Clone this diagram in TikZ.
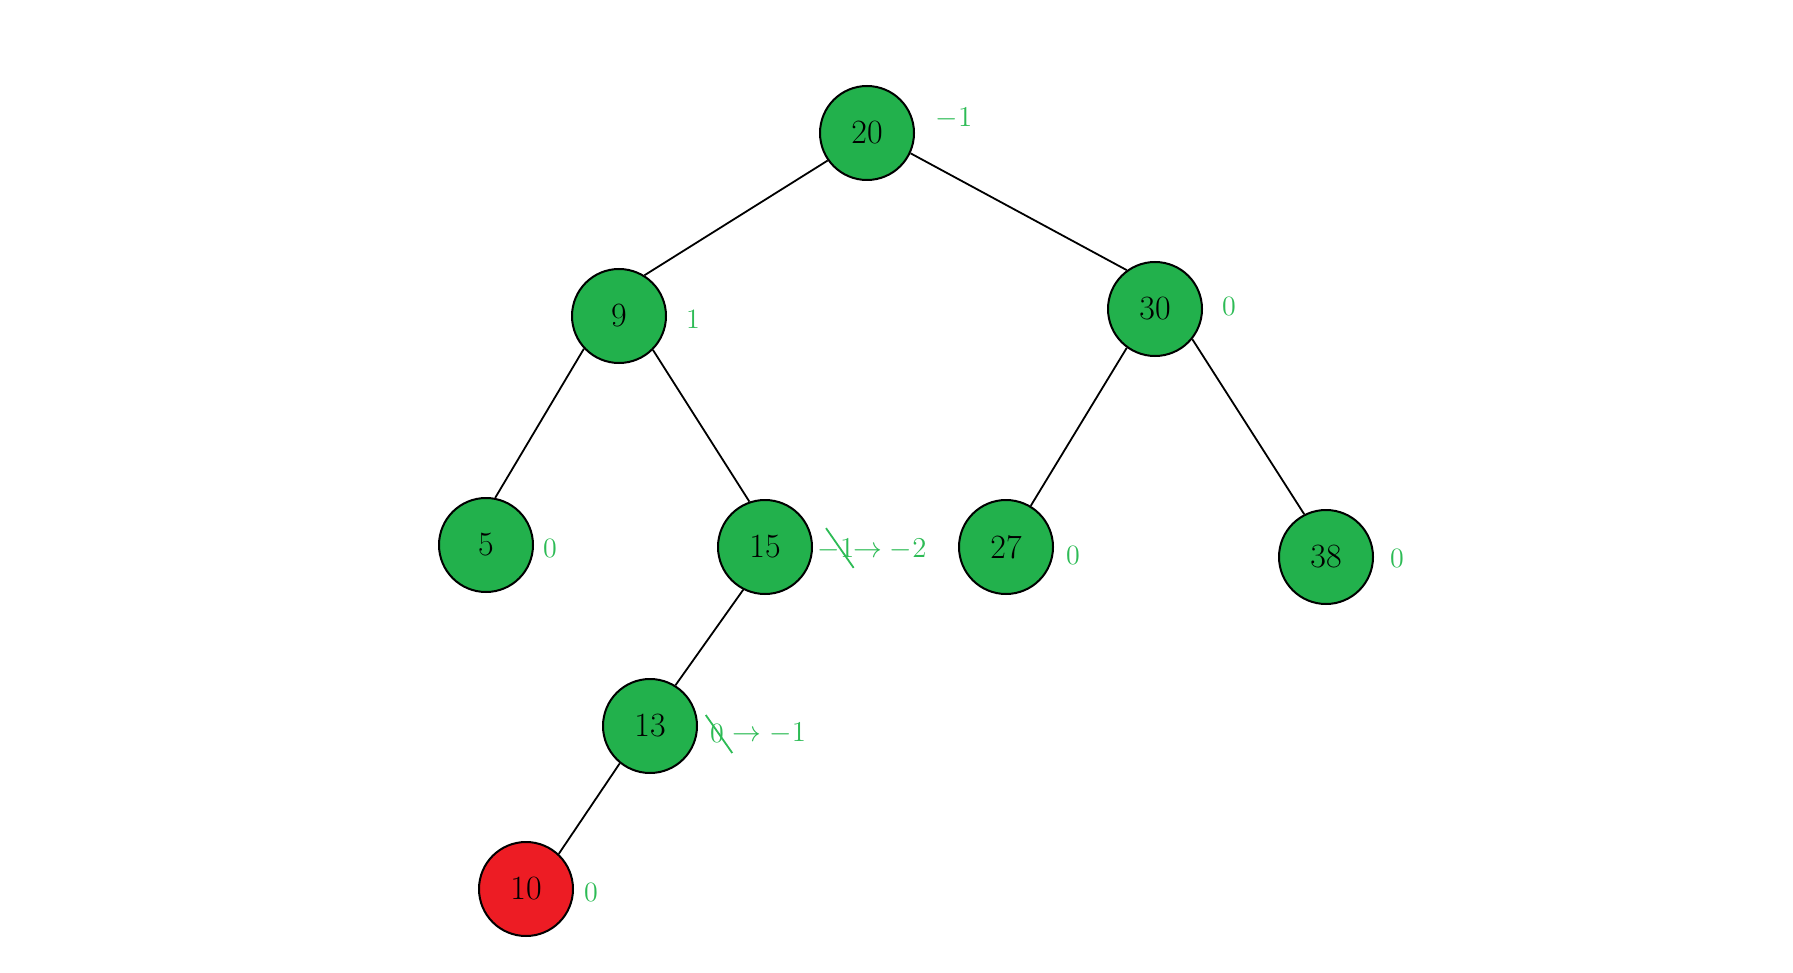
\documentclass[tikz,border=0pt]{standalone}
\usepackage{xcolor}
\definecolor{NodeGreen}{HTML}{22B14C}
\definecolor{NodeRed}{HTML}{ED1C24}
\definecolor{BalGreen}{HTML}{2DBB55}
\usepackage{tikz}
\usetikzlibrary{arrows.meta, positioning, calc}

\begin{document}
\begin{tikzpicture}[x=0.5pt, y=-0.5pt,
  key/.style={circle, draw=black, line width=1pt, fill=NodeGreen,
              minimum size=47pt, inner sep=0pt, font=\fontsize{17}{20}\selectfont},
  newkey/.style={key, fill=NodeRed},
  bal/.style={text=BalGreen, inner sep=1pt, font=\fontsize{14}{17}\selectfont},
  edge/.style={line width=0.9pt, color=black},
  strike/.style={line width=0.9pt, color=BalGreen}
]
\useasboundingbox (0,0) rectangle (1793,973);

%% ---- Tree keys ----
\node[key]    (n20) at ( 867, 133) {20};
\node[key]    (n9)  at ( 619, 316) {9};
\node[key]    (n30) at (1155, 309) {30};
\node[key]    (n5)  at ( 486, 545) {5};
\node[key]    (n15) at ( 765, 547) {15};
\node[key]    (n27) at (1006, 547) {27};
\node[key]    (n38) at (1326, 557) {38};
\node[key]    (n13) at ( 650, 726) {13};
\node[newkey] (n10) at ( 526, 889) {10};

%% ---- Edges (hand-picked border angles) ----
\draw[edge] (n20.215) -- (n9.58);
\draw[edge] (n20.335) -- (n30.126);
\draw[edge] (n9.223)  -- (n5.79);
\draw[edge] (n9.315)  -- (n15.109);
\draw[edge] (n30.234) -- (n27.59);
\draw[edge] (n30.321) -- (n38.117);
\draw[edge] (n15.243) -- (n13.58);
\draw[edge] (n13.231) -- (n10.47);

%% ---- Balance factors ----
\node[bal] (b20) at ( 954, 118) {$-1$};
\node[bal] (b9)  at ( 693, 319) {1};
\node[bal] (b30) at (1229, 306) {0};
\node[bal] (b5)  at ( 550, 548) {0};
\node[bal] (b27) at (1073, 555) {0};
\node[bal] (b38) at (1397, 558) {0};
\node[bal] (b10) at ( 591, 892) {0};

% updated factors: old value struck through, then the new one
\node[bal] (b15old) at (836, 549) {$-1$};
\node[bal, right=-3pt of b15old] (b15new) {$\rightarrow -2$};
\draw[strike] ($(b15old.north)+(-10,-8)$) -- ($(b15old.south east)+(-3,6)$);

\node[bal] (b13old) at (717, 733) {0};
\node[bal, right=2pt of b13old] (b13new) {$\rightarrow -1$};
\draw[strike] ($(b13old.north west)+(-2,-6)$) -- ($(b13old.south east)+(6,8)$);

\end{tikzpicture}
\end{document}
